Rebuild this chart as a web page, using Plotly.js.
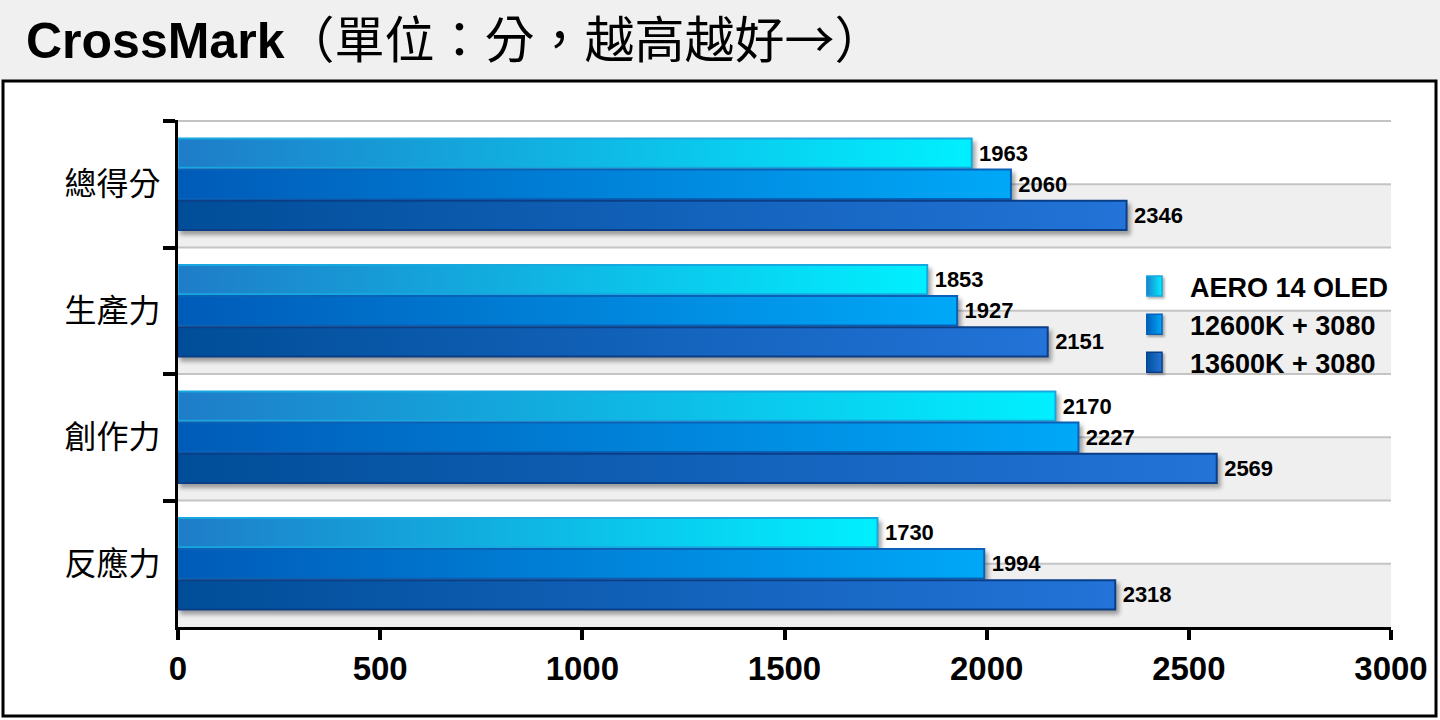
<!DOCTYPE html>
<html>
<head>
<meta charset="utf-8">
<script src="https://cdn.plot.ly/plotly-3.0.1.min.js"></script>
<style>
html,body{margin:0;padding:0;background:#fff;}
#chart{width:1440px;height:720px;}
</style>
</head>
<body>
<svg width="0" height="0" style="position:absolute">
  <defs>
    <linearGradient id="g0" x1="0" y1="0" x2="1" y2="0">
      <stop offset="0" stop-color="#1f7cc8"/>
      <stop offset="1" stop-color="#00f0ff"/>
    </linearGradient>
    <linearGradient id="g1" x1="0" y1="0" x2="1" y2="0">
      <stop offset="0" stop-color="#005bb8"/>
      <stop offset="1" stop-color="#00a8f8"/>
    </linearGradient>
    <linearGradient id="g2" x1="0" y1="0" x2="1" y2="0">
      <stop offset="0" stop-color="#004e98"/>
      <stop offset="1" stop-color="#2373d8"/>
    </linearGradient>
  </defs>
</svg>
<div id="chart"></div>
<script>
const categories = ['總得分', '生產力', '創作力', '反應力'];
const seriesNames = ['AERO 14 OLED', '12600K + 3080', '13600K + 3080'];
const aero14 = [1963, 1853, 2170, 1730];
const i12600k = [2060, 1927, 2227, 1994];
const i13600k = [2346, 2151, 2569, 2318];
const xTicks = [0, 500, 1000, 1500, 2000, 2500, 3000];

const seriesValues = [aero14, i12600k, i13600k];
const lineColors = ['#18a8e0', '#0a62b8', '#0a3f88'];
const solidColors = ['#12b8e8', '#0280dc', '#1260b8'];

const traces = seriesValues.map((vals, k) => ({
  type: 'bar',
  orientation: 'h',
  name: seriesNames[k],
  y: categories,
  x: vals,
  text: vals.map(v => '\u2009' + v),
  textposition: 'outside',
  constraintext: 'none',
  cliponaxis: false,
  textfont: {family: 'Liberation Sans, Arial, sans-serif', size: 22, color: '#000', weight: 'bold'},
  marker: {color: solidColors[k], line: {color: lineColors[k], width: 2}},
  hoverinfo: 'x+name'
}));

// plot-area geometry (px) used for frame shapes in paper coords
const L = 178, R = 49, T = 120, B = 93, W = 1440, H = 720;
const pw = W - L - R, ph = H - T - B;
const px = v => (v - L) / pw;
const py = v => (H - B - v) / ph;

const shapes = [];
// gray title strip
shapes.push({type: 'rect', xref: 'paper', yref: 'paper', layer: 'below',
  x0: px(0), x1: px(1440), y0: py(80), y1: py(0),
  fillcolor: '#f0f0f0', line: {width: 0}});
// white framed panel
shapes.push({type: 'rect', xref: 'paper', yref: 'paper', layer: 'below',
  x0: px(3), x1: px(1436), y0: py(716), y1: py(81),
  fillcolor: '#ffffff', line: {color: '#000', width: 3}});
// alternating bands and grid lines
categories.forEach((c, i) => {
  shapes.push({type: 'rect', xref: 'x', yref: 'y', layer: 'below',
    x0: 0, x1: 3000, y0: i, y1: i + 0.5, fillcolor: '#efefef', line: {width: 0}});
  [i - 0.5, i].forEach(yv => shapes.push({type: 'line', xref: 'x', yref: 'y', layer: 'below',
    x0: 0, x1: 3000, y0: yv, y1: yv, line: {color: '#c4c4c4', width: 2}}));
});

const layout = {
  width: W, height: H,
  margin: {l: L, r: R, t: T, b: B, pad: 0},
  paper_bgcolor: '#ffffff',
  plot_bgcolor: 'rgba(0,0,0,0)',
  title: {
    text: '<b>CrossMark</b><span style="font-family:\'Noto Sans CJK TC\'">（單位：分，越高越好→）</span>',
    font: {family: 'Liberation Sans, Arial, "Noto Sans CJK TC", sans-serif', size: 50, color: '#000'},
    x: 26 / W, xanchor: 'left', xref: 'container',
    y: 1 - 40 / H, yanchor: 'middle', yref: 'container'
  },
  barmode: 'group',
  bargap: 0.26,
  bargroupgap: 0.06,
  showlegend: true,
  legend: {
    x: px(1146), y: py(262), xanchor: 'left', yanchor: 'top',
    bgcolor: 'rgba(0,0,0,0)',
    font: {family: 'Liberation Sans, Arial, sans-serif', size: 27, color: '#000', weight: 'bold'},
    tracegroupgap: 0, itemwidth: 34
  },
  xaxis: {
    range: [0, 3000],
    tickvals: xTicks,
    ticktext: xTicks.map(String),
    showgrid: false, zeroline: false,
    showline: true, linecolor: '#000', linewidth: 3,
    ticks: 'outside', ticklen: 10, tickwidth: 4, tickcolor: '#000',
    tickfont: {family: 'Liberation Sans, Arial, sans-serif', size: 33, color: '#000', weight: 'bold'},
    fixedrange: true
  },
  yaxis: {
    type: 'category',
    categoryorder: 'array', categoryarray: categories,
    autorange: 'reversed',
    showgrid: false, zeroline: false,
    showline: true, linecolor: '#000', linewidth: 3,
    ticks: 'outside', tickson: 'boundaries', ticklen: 12, tickwidth: 4, tickcolor: '#000',
    ticklabelstandoff: 8,
    tickfont: {family: '"Noto Sans CJK TC", sans-serif', size: 32, color: '#000'},
    fixedrange: true
  },
  shapes: shapes
};

Plotly.newPlot('chart', traces, layout, {displayModeBar: false, staticPlot: true}).then(gd => {
  gd.querySelectorAll('.barlayer .trace').forEach((tr, k) => {
    tr.querySelectorAll('.point path').forEach(p => {
      p.style.fill = 'url(#g' + k + ')';
      p.style.filter = 'drop-shadow(3px 4px 2px rgba(0,0,0,0.35))';
    });
  });
  gd.querySelectorAll('.legend .traces').forEach((tr, k) => {
    tr.querySelectorAll('.legendpoints path').forEach(p => {
      p.setAttribute('d', 'M-22,-10H-6V10H-22Z');
      p.style.fill = 'url(#g' + k + ')';
      p.style.strokeWidth = '1.5px';
      p.style.filter = 'drop-shadow(2px 2px 1px rgba(0,0,0,0.3))';
    });
  });
});
</script>
</body>
</html>
